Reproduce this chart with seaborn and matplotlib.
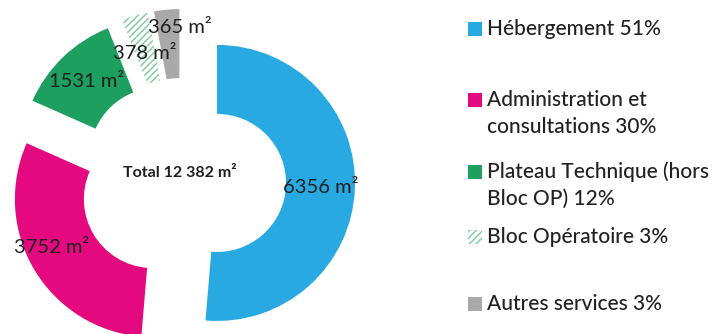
import matplotlib
matplotlib.use("Agg")
import numpy as np
import matplotlib.pyplot as plt
from matplotlib.patches import Rectangle
import seaborn as sns

# Surfaces by service
categories = ["Hébergement", "Administration et\nconsultations",
              "Plateau Technique (hors\nBloc OP)", "Bloc Opératoire", "Autres services"]
surfaces = [6356, 3752, 1531, 378, 365]
shares = [51, 30, 12, 3, 3]
total_label = "Total 12 382 m²"

colors = ["#29A9E1", "#E5097F", "#1C9F5F", "#FFFFFF", "#A9A9A9"]
hatch_color = "#86cca2"

sns.set_theme(style="white")
plt.rcParams["font.family"] = ["Lato", "DejaVu Sans"]
plt.rcParams["hatch.linewidth"] = 1.1

W, H = 718, 334
fig = plt.figure(figsize=(W / 100, H / 100), dpi=100)
ax = fig.add_axes([0, 0, 1, 1])

wedges, _ = ax.pie(
    surfaces, startangle=90, counterclock=False, colors=colors,
    explode=[0.25] * len(surfaces), radius=1,
    wedgeprops=dict(width=0.5, linewidth=0),
)
# hatched wedge for the operating block
wedges[3].set_hatch("/////")
wedges[3].set_edgecolor(hatch_color)
wedges[3].set_linewidth(0)

# value labels in the middle of each ring segment
nudges = {1: (-0.09, 0.03), 3: (0.0, -0.03), 4: (0.07, 0.12)}
for i, (w, v) in enumerate(zip(wedges, surfaces)):
    mid = np.deg2rad((w.theta1 + w.theta2) / 2)
    cx, cy = w.center
    x = cx + 0.75 * np.cos(mid)
    y = cy + 0.75 * np.sin(mid)
    dx, dy = nudges.get(i, (0, 0))
    ax.text(x + dx, y + dy, f"{v} m²", ha="center", va="center",
            fontsize=14.5, color="#1f1f1f")

ax.text(-0.02, 0.06, total_label, ha="center", va="center",
        fontsize=11.5, fontweight="bold", color="#1f1f1f")

ax.set_xlim(-1.323, 3.88)
ax.set_ylim(-1.105, 1.315)
ax.set_aspect("auto")
ax.axis("off")

# legend drawn in pixel coordinates of the figure
def px(x, y):
    return x / W, 1 - y / H

legend_rows = [29, 100, 172, 237, 304]
line_gap = 27
for i, (cat, share, row) in enumerate(zip(categories, shares, legend_rows)):
    lines = f"{cat} {share}%".split("\n")
    for k, line in enumerate(lines):
        fx, fy = px(487, row + k * line_gap)
        fig.text(fx, fy, line, ha="left", va="center", fontsize=15,
                 fontweight="medium", color="#222222")
    sx, sy = px(468, row + 7)
    sq = Rectangle((sx, sy), 14 / W, 14 / H, transform=fig.transFigure,
                   facecolor=colors[i], edgecolor="none", linewidth=0)
    if i == 3:
        sq.set_hatch("/////")
        sq.set_edgecolor(hatch_color)
    fig.patches.append(sq)

fig.savefig("out.png", dpi=100, facecolor="white")
